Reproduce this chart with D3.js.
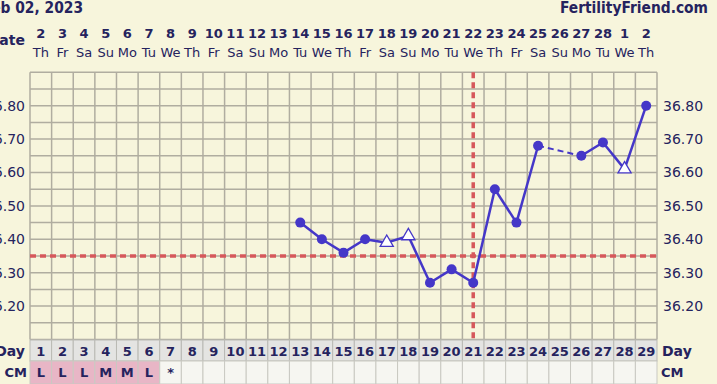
<!DOCTYPE html>
<html>
<head>
<meta charset="utf-8">
<script src="https://cdn.jsdelivr.net/npm/d3@7"></script>
<style>
  body { margin: 0; background: #f7f5dc; }
  svg { display: block; font-family: "DejaVu Sans", Verdana, sans-serif; }
</style>
</head>
<body>
<div id="chart"></div>
<script>
// cycle days, dates and weekdays shown on top
const cycleDays = d3.range(1, 30);
const dateLabels = ["2","3","4","5","6","7","8","9","10","11","12","13","14","15","16","17","18","19","20","21","22","23","24","25","26","27","28","1","2"];
const weekdays = ["Th","Fr","Sa","Su","Mo","Tu","We","Th","Fr","Sa","Su","Mo","Tu","We","Th","Fr","Sa","Su","Mo","Tu","We","Th","Fr","Sa","Su","Mo","Tu","We","Th"];

// temperatures (null = no reading), and which ones are open (discarded) markers
const temps = [null,null,null,null,null,null,null,null,null,null,null,null,
  36.45, 36.40, 36.36, 36.40, 36.39, 36.41, 36.27, 36.31, 36.27,
  36.55, 36.45, 36.68, null, 36.65, 36.69, 36.61, 36.80];
const openDays = [17, 18, 28];

const tempTicks = [36.20, 36.30, 36.40, 36.50, 36.60, 36.70, 36.80];
const coverline = 36.35;
const ovulationDay = 21;

const cmLabels = ["L","L","L","M","M","L","*","","","","","","","","","","","","","","","","","","","","","",""];

const W = 717, H = 384;
const plotL = 30, plotR = 657, plotT = 72.3, plotB = 339.5;
const navy = "#25235e", blue = "#4537c8", red = "#d6585b", grid = "#b0ada0";

const svg = d3.select("#chart").append("svg").attr("width", W).attr("height", H);
svg.append("rect").attr("width", W).attr("height", H).attr("fill", "#f7f5dc");

const x = d3.scaleBand().domain(cycleDays).range([plotL, plotR]);
const y = d3.scaleLinear().domain([36.10, 36.90]).range([plotB, plotT]);
const cx = d => x(d) + x.bandwidth() / 2;

// header (slightly condensed, the chart's own font is narrower)
const sx = 0.865;
const head = svg.append("g").attr("transform", `scale(${sx},1)`);
head.append("text").attr("x", 83 / sx).attr("y", 13).attr("text-anchor", "end")
  .attr("font-weight", "bold").attr("font-size", 16).attr("fill", navy).text("Feb 02, 2023");
head.append("text").attr("x", 708 / sx).attr("y", 13).attr("text-anchor", "end")
  .attr("font-weight", "bold").attr("font-size", 16).attr("fill", navy).text("FertilityFriend.com");
svg.append("text").attr("x", 25).attr("y", 45).attr("text-anchor", "end")
  .attr("font-weight", "bold").attr("font-size", 14).attr("fill", navy).text("Date");

svg.append("g").selectAll("text").data(cycleDays).join("text")
  .attr("x", cx).attr("y", 38).attr("text-anchor", "middle")
  .attr("font-weight", "bold").attr("font-size", 13).attr("fill", navy)
  .text((d, i) => dateLabels[i]);
svg.append("g").selectAll("text").data(cycleDays).join("text")
  .attr("x", cx).attr("y", 57).attr("text-anchor", "middle")
  .attr("font-size", 13).attr("fill", navy)
  .text((d, i) => weekdays[i]);

// grid
const g = svg.append("g");
g.selectAll(".h").data(d3.range(0, 17).map(i => 36.10 + i * 0.05)).join("line")
  .attr("x1", plotL).attr("x2", plotR).attr("y1", d => y(d)).attr("y2", d => y(d))
  .attr("stroke", grid).attr("stroke-width", 1.5);
g.selectAll(".v").data(cycleDays.concat([30])).join("line")
  .attr("x1", d => d === 30 ? plotR : x(d)).attr("x2", d => d === 30 ? plotR : x(d))
  .attr("y1", plotT).attr("y2", plotB)
  .attr("stroke", grid).attr("stroke-width", 1.5);

// axes
const axL = svg.append("g").attr("transform", `translate(${plotL},0)`)
  .call(d3.axisLeft(y).tickValues(tempTicks).tickSize(0).tickPadding(5).tickFormat(d3.format(".2f")));
const axR = svg.append("g").attr("transform", `translate(${plotR},0)`)
  .call(d3.axisRight(y).tickValues(tempTicks).tickSize(0).tickPadding(6).tickFormat(d3.format(".2f")));
[axL, axR].forEach(a => {
  a.select(".domain").remove();
  a.selectAll("text").attr("font-size", 14).attr("fill", navy).attr("font-family", "DejaVu Sans, Verdana, sans-serif");
});

// coverline and ovulation line
svg.append("line").attr("x1", plotL).attr("x2", plotR)
  .attr("y1", y(coverline)).attr("y2", y(coverline))
  .attr("stroke", red).attr("stroke-width", 3.5).attr("stroke-dasharray", "6,4");
svg.append("line").attr("x1", cx(ovulationDay)).attr("x2", cx(ovulationDay))
  .attr("y1", plotT).attr("y2", plotB)
  .attr("stroke", red).attr("stroke-width", 3.5).attr("stroke-dasharray", "6,4");

// temperature line
const pts = cycleDays.map((d, i) => ({ day: d, t: temps[i] })).filter(p => p.t !== null);
const segs = d3.pairs(pts);
svg.append("g").selectAll("line").data(segs).join("line")
  .attr("x1", s => cx(s[0].day)).attr("y1", s => y(s[0].t))
  .attr("x2", s => cx(s[1].day)).attr("y2", s => y(s[1].t))
  .attr("stroke", blue)
  .attr("stroke-width", s => s[1].day - s[0].day > 1 ? 2 : 2.5)
  .attr("stroke-dasharray", s => s[1].day - s[0].day > 1 ? "6,4" : null);

svg.append("g").selectAll("circle").data(pts.filter(p => !openDays.includes(p.day))).join("circle")
  .attr("cx", p => cx(p.day)).attr("cy", p => y(p.t)).attr("r", 5)
  .attr("fill", blue);
const tri = d3.symbol().type(d3.symbolTriangle).size(75);
svg.append("g").selectAll("path").data(pts.filter(p => openDays.includes(p.day))).join("path")
  .attr("transform", p => `translate(${cx(p.day)},${y(p.t)})`)
  .attr("d", tri).attr("fill", "#ffffff").attr("stroke", blue).attr("stroke-width", 1.3);

// Day and CM rows
const rowDay = 340, rowCm = 361, rowEnd = 384;
svg.append("g").selectAll("rect").data(cycleDays).join("rect")
  .attr("x", d => x(d)).attr("y", rowDay).attr("width", x.bandwidth()).attr("height", rowCm - rowDay)
  .attr("fill", "#e4e4e2").attr("stroke", "#b9b9b4").attr("stroke-width", 1);
svg.append("g").selectAll("text").data(cycleDays).join("text")
  .attr("x", cx).attr("y", rowDay + 16).attr("text-anchor", "middle")
  .attr("font-weight", "bold").attr("font-size", 13).attr("fill", navy).text(d => d);

svg.append("g").selectAll("rect").data(cycleDays).join("rect")
  .attr("x", d => x(d)).attr("y", rowCm).attr("width", x.bandwidth()).attr("height", rowEnd - rowCm)
  .attr("fill", (d, i) => /[LMHE]/.test(cmLabels[i]) ? "#e8b6c6" : "#f6f6f1")
  .attr("stroke", "#c9c9c2").attr("stroke-width", 1);
svg.append("g").selectAll("text").data(cycleDays).join("text")
  .attr("x", cx).attr("y", rowCm + 16).attr("text-anchor", "middle")
  .attr("font-weight", "bold").attr("font-size", 13).attr("fill", navy)
  .text((d, i) => cmLabels[i]);

svg.append("text").attr("x", 25).attr("y", rowDay + 16).attr("text-anchor", "end")
  .attr("font-weight", "bold").attr("font-size", 14).attr("fill", navy).text("Day");
svg.append("text").attr("x", 27).attr("y", rowCm + 16).attr("text-anchor", "end")
  .attr("font-weight", "bold").attr("font-size", 13).attr("fill", navy).text("CM");
svg.append("text").attr("x", 662).attr("y", rowDay + 16)
  .attr("font-weight", "bold").attr("font-size", 14).attr("fill", navy).text("Day");
svg.append("text").attr("x", 661).attr("y", rowCm + 16)
  .attr("font-weight", "bold").attr("font-size", 13).attr("fill", navy).text("CM");
</script>
</body>
</html>
